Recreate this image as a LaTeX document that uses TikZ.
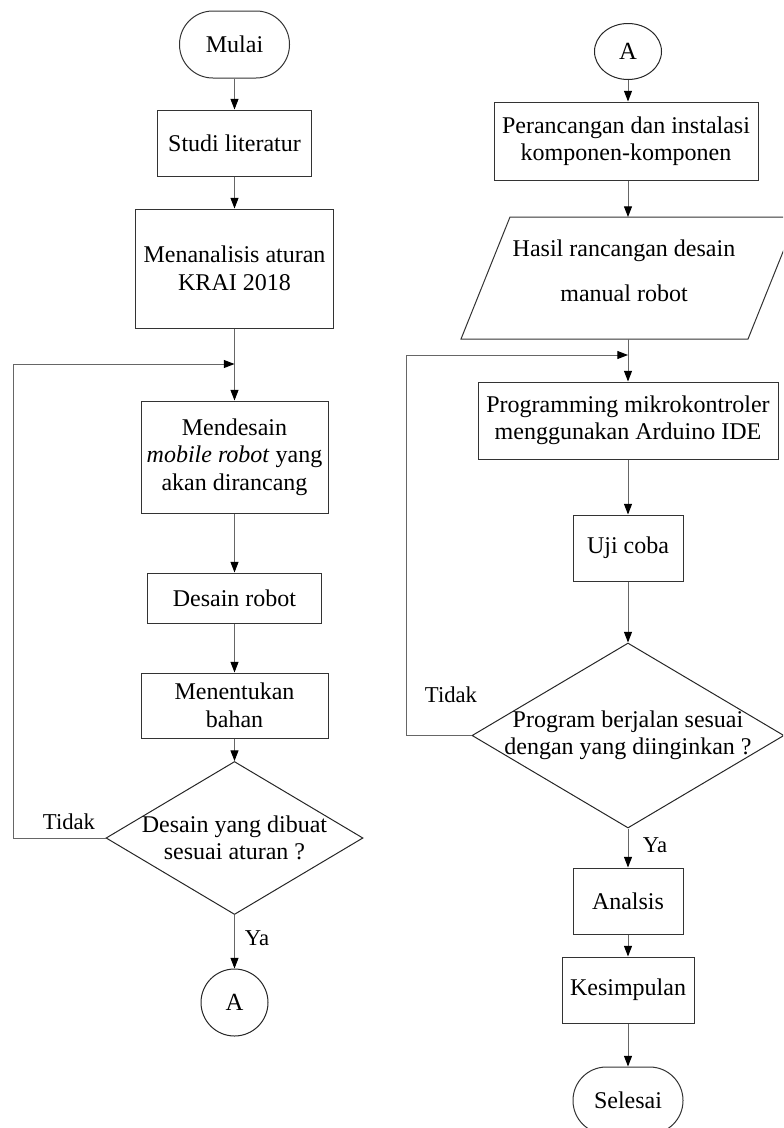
\documentclass[tikz,border=0pt]{standalone}
\usepackage{fontspec}
\setmainfont{Liberation Serif}
\usetikzlibrary{shapes.geometric,arrows.meta}
\tikzset{
  txt/.style={font=\fontsize{18}{20.6}\selectfont, align=center},
  lbl/.style={font=\fontsize{17}{20}\selectfont, inner sep=0pt},
  boxshape/.style={draw=black!80, line width=0.75pt, rectangle, inner sep=0pt, txt},
  termshape/.style={boxshape, rounded corners=25pt},
  decshape/.style={draw=black!85, line width=0.75pt, diamond, inner sep=0pt},
  conn/.style={draw=black!60, line width=0.75pt},
  arr/.style={conn, -{Triangle[length=8pt,width=6pt,color=black]}},
  conshape/.style={draw=black!85, line width=0.75pt, inner sep=0pt, font=\fontsize{18.5}{20}\selectfont},
}
\begin{document}
\begin{tikzpicture}[x=0.75pt, y=-0.75pt]
\useasboundingbox (0,0) rectangle (783,1128);
\clip (0,0) rectangle (783,1128);
% ---------- left column ----------
\node[termshape, minimum width=82.5pt, minimum height=50.25pt] (mulai) at (234.5,44.5) {Mulai};
\node[boxshape, minimum width=115.5pt, minimum height=49.5pt] (studi) at (234.5,143) {Studi literatur};
\node[boxshape, minimum width=148.5pt, minimum height=89.25pt] (analisis) at (234.5,268.5) {Menanalisis aturan\\KRAI 2018};
\node[boxshape, minimum width=140.25pt, minimum height=84pt] (mendesain) at (234.5,457) {Mendesain\\\textit{mobile robot} yang\\akan dirancang};
\node[boxshape, minimum width=130.5pt, minimum height=37.5pt] (desain) at (234.5,598) {Desain robot};
\node[boxshape, minimum width=140.25pt, minimum height=48.75pt] (menentukan) at (234.5,705.5) {Menentukan\\bahan};
\node[decshape, minimum width=192.75pt, minimum height=114.75pt,
      label={[txt]center:{Desain yang dibuat\\sesuai aturan ?}}] (d1) at (234.5,838) {};
\node[conshape, circle, minimum size=50.25pt] (a1) at (234.5,1002.5) {A};
\coordinate (j1) at (234.5,364);
\coordinate (c1) at (13,364);
\draw[arr] (mulai) -- (studi);
\draw[arr] (studi) -- (analisis);
\draw[arr] (analisis) -- (mendesain);
\draw[arr] (mendesain) -- (desain);
\draw[arr] (desain) -- (menentukan);
\draw[arr] (menentukan) -- (d1);
\draw[arr] (d1.west) -- (d1.west -| c1) -- (c1) -- (j1);
\draw[arr] (d1) -- (a1);
\node[lbl] (tidak1) at (69,822) {Tidak};
\node[lbl] (ya1) at (257,938) {Ya};
% ---------- right column ----------
\node[conshape, ellipse, minimum width=50.25pt, minimum height=42pt] (a2) at (628,51.5) {A};
\node[boxshape, minimum width=198pt, minimum height=58.5pt] (perancangan) at (626,141) {Perancangan dan instalasi\\komponen-komponen};
\draw[draw=black!80, line width=0.75pt] (510,217) -- (797,217) -- (748,339) -- (461,339) -- cycle;
\node[txt, font=\fontsize{18}{33.75}\selectfont] (hasil) at (624,271) {Hasil rancangan desain\\manual robot};
\coordinate (hN) at (628,217);
\coordinate (hS) at (628,339);
\node[boxshape, minimum width=225pt, minimum height=57.75pt] (programming) at (628,420.5) {Programming mikrokontroler\\menggunakan Arduino IDE};
\node[boxshape, minimum width=82.5pt, minimum height=49.5pt] (uji) at (628,548) {Uji coba};
\node[decshape, minimum width=234pt, minimum height=138.75pt,
      label={[txt]center:{Program berjalan sesuai\\dengan yang diinginkan ?}}] (d2) at (628,735.5) {};
\node[boxshape, minimum width=82.5pt, minimum height=49.5pt] (analsis) at (628,901) {Analsis};
\node[boxshape, minimum width=99pt, minimum height=49.5pt] (kesimpulan) at (628,990) {Kesimpulan};
\node[termshape, minimum width=82.5pt, minimum height=50.25pt] (selesai) at (628,1100.5) {Selesai};
\coordinate (j2) at (628,355);
\coordinate (c2) at (406,355);
\draw[arr] (a2) -- (a2 |- perancangan.north);
\draw[arr] (perancangan.south -| hN) -- (hN);
\draw[arr] (hS) -- (programming);
\draw[arr] (programming) -- (uji);
\draw[arr] (uji) -- (d2);
\draw[arr] (d2.west) -- (d2.west -| c2) -- (c2) -- (j2);
\draw[arr] (d2) -- (analsis);
\draw[arr] (analsis) -- (kesimpulan);
\draw[arr] (kesimpulan) -- (selesai);
\node[lbl] (tidak2) at (451,695) {Tidak};
\node[lbl] (ya2) at (655,845) {Ya};
\end{tikzpicture}
\end{document}
